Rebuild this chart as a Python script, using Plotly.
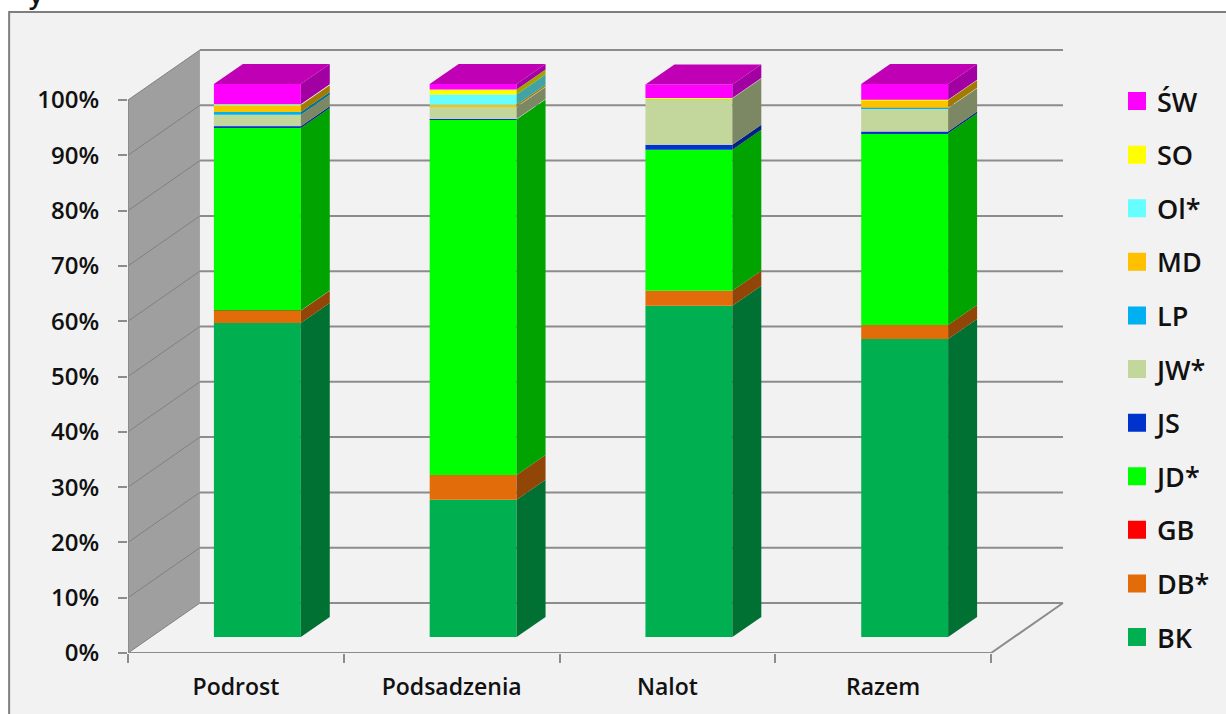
import plotly.graph_objects as go

categories = ["Podrost", "Podsadzenia", "Nalot", "Razem"]
series_names = ["BK", "DB*", "GB", "JD*", "JS", "JW*", "LP", "MD", "Ol*", "SO", "ŚW"]
BK = [56.8, 24.8, 59.9, 53.9]
DB = [2.2, 4.5, 2.7, 2.5]
GB = [0.05, 0.0, 0.0, 0.0]
JD = [33.0, 64.3, 25.5, 34.7]
JS = [0.3, 0.05, 0.9, 0.3]
JW = [2.1, 2.2, 8.4, 4.2]
LP = [0.5, 0.1, 0.0, 0.1]
MD = [1.2, 0.3, 0.0, 1.35]
OI = [0.1, 1.85, 0.0, 0.05]
SO = [0.1, 0.9, 0.05, 0.05]
SW = [3.65, 1.0, 2.45, 2.85]
series_values = [BK, DB, GB, JD, JS, JW, LP, MD, OI, SO, SW]
colors = ["#00B050", "#E36C0A", "#FF0000", "#00FF00", "#0033CC", "#C3D69B",
          "#00B0F0", "#FFC000", "#66FFFF", "#FFFF00", "#FF00FF"]
y_ticks = list(range(0, 101, 10))
y_tick_labels = [f"{t}%" for t in y_ticks]

W, H = 1226, 714
L, R, T, B = 128, 1065, 47, 653          # plot box in pixels
CAT_PX = 216.0                           # pixels per category
PCT_PX = 5.53                            # pixels per percent
x_min = -0.5
x_max = x_min + (R - L) / CAT_PX
y_max = (B - T) / PCT_PX
x_floor_end = 3.5
WALL_DX, WALL_DY = 72 / CAT_PX, 50 / PCT_PX
BAR_SHIFT_X, BAR_LIFT = 21.5 / CAT_PX, 16 / PCT_PX
BAR_W = 87 / CAT_PX
SIDE_DX, SIDE_DY = 29 / CAT_PX, 20 / PCT_PX
GRID = "#8C8C8C"
WALL = "#9F9F9F"
INK = "#111111"
FONT = "Open Sans"


def darker(hex_color, f=0.64):
    r, g, b = (int(hex_color[i:i + 2], 16) for i in (1, 3, 5))
    return f"rgb({int(r * f)},{int(g * f)},{int(b * f)})"


def px_to_paper_x(px):
    return (px - L) / (R - L)


def px_to_paper_y(py):
    return (B - py) / (B - T)


fig = go.Figure()

# front faces
cum = [0.0] * len(categories)
for name, vals, col in zip(series_names, series_values, colors):
    base = [c + BAR_LIFT for c in cum]
    fig.add_trace(go.Bar(
        x=[i + BAR_SHIFT_X for i in range(len(categories))], y=vals, base=base,
        width=BAR_W, marker=dict(color=col, line=dict(width=0)),
        name=name, showlegend=False))
    # side faces, built from the same stack
    xs, ys = [], []
    for i, v in enumerate(vals):
        x1 = i + BAR_SHIFT_X + BAR_W / 2
        b = base[i]
        xs += [x1, x1 + SIDE_DX, x1 + SIDE_DX, x1, x1, None]
        ys += [b, b + SIDE_DY, b + v + SIDE_DY, b + v, b, None]
    fig.add_trace(go.Scatter(x=xs, y=ys, mode="lines", fill="toself",
                             fillcolor=darker(col), line=dict(width=0),
                             showlegend=False, hoverinfo="skip"))
    cum = [c + v for c, v in zip(cum, vals)]

# top faces
xs, ys = [], []
for i, c in enumerate(cum):
    x0 = i + BAR_SHIFT_X - BAR_W / 2
    x1 = x0 + BAR_W
    t = c + BAR_LIFT
    xs += [x0, x1, x1 + SIDE_DX, x0 + SIDE_DX, x0, None]
    ys += [t, t, t + SIDE_DY, t + SIDE_DY, t, None]
fig.add_trace(go.Scatter(x=xs, y=ys, mode="lines", fill="toself",
                         fillcolor="#BF00B4", line=dict(width=0),
                         showlegend=False, hoverinfo="skip"))

# legend entries, top to bottom
for name, col in reversed(list(zip(series_names, colors))):
    fig.add_trace(go.Scatter(
        x=[None], y=[None], mode="markers", name=name, legendgroup=name,
        marker=dict(symbol="square", size=16, color=col, line=dict(color=col, width=2))))

shapes = [
    # outer frame
    dict(type="rect", xref="paper", yref="paper", layer="below",
         x0=px_to_paper_x(9), x1=px_to_paper_x(W + 10),
         y0=px_to_paper_y(H + 10), y1=px_to_paper_y(12),
         fillcolor="#F2F2F2", line=dict(color="#7F7F7F", width=2)),
    # side wall
    dict(type="path", layer="below",
         path=f"M {x_min} 0 L {x_min + WALL_DX} {WALL_DY} L {x_min + WALL_DX} {100 + WALL_DY} L {x_min} 100 Z",
         fillcolor=WALL, line=dict(width=0)),
]
for t in y_ticks:
    shapes.append(dict(type="line", layer="below",
                       x0=x_min + WALL_DX, x1=x_floor_end + WALL_DX, y0=t + WALL_DY, y1=t + WALL_DY,
                       line=dict(color=GRID, width=2)))
    shapes.append(dict(type="line", layer="below",
                       x0=x_min, x1=x_min + WALL_DX, y0=t, y1=t + WALL_DY,
                       line=dict(color="#808080", width=1)))
# floor edges and front axis
shapes += [
    dict(type="line", layer="below", x0=x_min, x1=x_floor_end, y0=0, y1=0, line=dict(color=GRID, width=2)),
    dict(type="line", layer="below", x0=x_floor_end, x1=x_floor_end + WALL_DX, y0=0, y1=WALL_DY,
         line=dict(color=GRID, width=2)),
    dict(type="line", layer="below", x0=x_min, x1=x_min, y0=0, y1=100, line=dict(color=GRID, width=2)),
]

fig.update_layout(
    width=W, height=H, autosize=False,
    margin=dict(l=L, r=W - R, t=T, b=H - B, pad=0),
    paper_bgcolor="white", plot_bgcolor="rgba(0,0,0,0)",
    barmode="overlay", shapes=shapes, hovermode="closest",
    font=dict(family=FONT, color=INK),
    xaxis=dict(range=[x_min, x_max], showgrid=False, zeroline=False, showline=False,
               tickmode="array", tickvals=list(range(len(categories))), ticktext=categories,
               ticks="", tickfont=dict(family=FONT, size=23, weight=600, color=INK),
               ticklabelstandoff=18,
               minor=dict(tickmode="array", tickvals=[i - 0.5 for i in range(len(categories) + 1)],
                          ticks="outside", ticklen=9, tickcolor=GRID, tickwidth=2, showgrid=False)),
    yaxis=dict(range=[0, y_max], showgrid=False, zeroline=False, showline=False,
               tickmode="array", tickvals=y_ticks, ticktext=y_tick_labels,
               ticks="outside", ticklen=9, tickcolor=GRID, tickwidth=2,
               tickfont=dict(family=FONT, size=24, weight=600, color=INK),
               ticklabelstandoff=14),
    legend=dict(x=px_to_paper_x(1117), xanchor="left", y=px_to_paper_y(77), yanchor="top",
                traceorder="grouped", tracegroupgap=15.5, itemwidth=30,
                bgcolor="rgba(0,0,0,0)",
                font=dict(family=FONT, size=27, weight=600, color=INK)),
    annotations=[dict(text="y", xref="paper", yref="paper", x=px_to_paper_x(36), y=px_to_paper_y(-6),
                      xanchor="center", yanchor="middle", showarrow=False,
                      font=dict(family=FONT, size=26, weight=600, color="#111111"))],
)

fig.write_html("out.html", config={"displayModeBar": False},
               post_script="document.body.style.margin='0';document.documentElement.style.overflow='hidden';")
